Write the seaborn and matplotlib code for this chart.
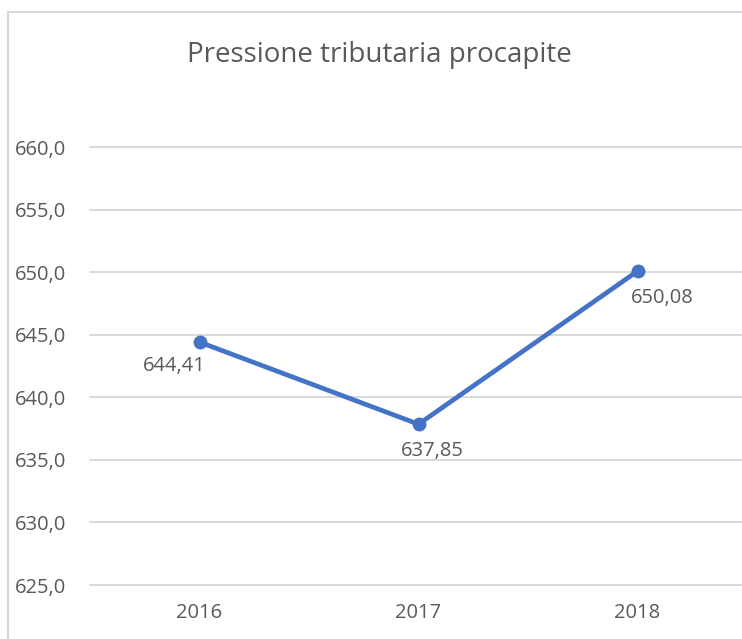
import matplotlib
matplotlib.use('Agg')
import matplotlib.pyplot as plt
import seaborn as sns
import pandas as pd

# data
years = ['2016', '2017', '2018']
values = [644.41, 637.85, 650.08]
labels = ['644,41', '637,85', '650,08']
yticks = [625, 630, 635, 640, 645, 650, 655, 660]

df = pd.DataFrame({'Anno': years, 'Pressione': values})

sns.set_style('white')
plt.rcParams['font.family'] = ['Open Sans', 'DejaVu Sans']

text_col = '#595959'
grid_col = '#D9D9D9'
line_col = '#4472C4'

fig = plt.figure(figsize=(7.42, 6.39), dpi=100)
# chart border (cropped on right/bottom as in the original)
fig.patches.append(plt.Rectangle((8 / 742, -0.1), 1.5, 1 - 12 / 639 + 0.1,
                                 transform=fig.transFigure, fill=False,
                                 edgecolor=grid_col, linewidth=1.5))

ax = fig.add_axes([90 / 742, 1 - 585 / 639, 657 / 742, (585 - 147) / 639])

sns.lineplot(data=df, x='Anno', y='Pressione', ax=ax, color=line_col,
             linewidth=3.4, marker='o', markersize=10, markeredgewidth=0,
             sort=False, zorder=3)

ax.set_xlim(-0.5, 2.5)
ax.set_ylim(625, 660)
ax.set_yticks(yticks)
ax.set_yticklabels([f'{t},0' for t in yticks])
for t in yticks:
    ax.axhline(t, color=grid_col, linewidth=1.4, clip_on=False, zorder=1)
for s in ax.spines.values():
    s.set_visible(False)
ax.tick_params(axis='both', length=0, labelsize=14.5, colors=text_col)
ax.tick_params(axis='y', pad=17)
ax.tick_params(axis='x', pad=13)
ax.set_xlabel('')
ax.set_ylabel('')

# data labels, Excel-style placement
offsets = [(-18, -17), (10, -19), (18, -19)]
for i, (v, lab) in enumerate(zip(values, labels)):
    ax.annotate(lab, (i, v), xytext=offsets[i], textcoords='offset points',
                ha='center', va='center', fontsize=14.5, color=text_col)

fig.text(379 / 742, 1 - 55 / 639, 'Pressione tributaria procapite',
         ha='center', va='center', fontsize=20, color=text_col)

fig.savefig('out.png', dpi=100)
